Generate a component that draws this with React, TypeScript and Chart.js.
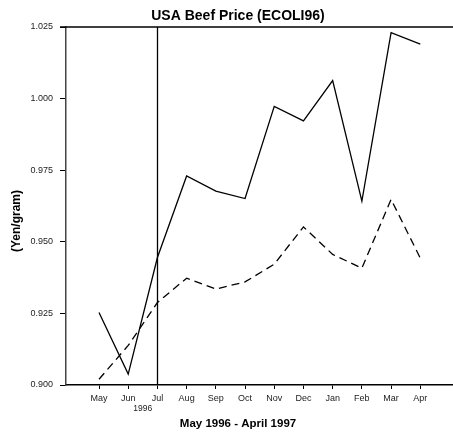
import React, { useEffect, useRef } from "react";
import { Chart, registerables } from "chart.js";

Chart.register(...registerables);

const months = ["May", "Jun", "Jul", "Aug", "Sep", "Oct", "Nov", "Dec", "Jan", "Feb", "Mar", "Apr"];
const usaPrice = [0.9253, 0.9038, 0.9445, 0.973, 0.9677, 0.9651, 0.9973, 0.9922, 1.0063, 0.9642, 1.023, 1.019];
const otherPrice = [0.902, 0.9138, 0.9288, 0.9373, 0.9335, 0.936, 0.9422, 0.9552, 0.9456, 0.9408, 0.9648, 0.9443];
const yTicks = [0.9, 0.925, 0.95, 0.975, 1.0, 1.025];
const eventIndex = 2; // July 1996 (ECOLI96)
const yearLabel = "1996";
const yearPos = 1.5;
const chartTitle = "USA Beef Price (ECOLI96)";
const xTitle = "May 1996 - April 1997";
const yTitle = "(Yen/gram)";

const FONT = "'Liberation Sans', Arial, sans-serif";

export default function App() {
  const ref = useRef<HTMLCanvasElement | null>(null);

  useEffect(() => {
    if (!ref.current) return;
    const decor = {
      id: "decor",
      afterDraw(chart: any) {
        const { ctx, chartArea, scales } = chart;
        const x = scales.x;
        ctx.save();
        // top border line
        ctx.strokeStyle = "#000";
        ctx.lineWidth = 1.5;
        ctx.beginPath();
        ctx.moveTo(chartArea.left - 6, chartArea.top);
        ctx.lineTo(chartArea.right, chartArea.top);
        ctx.stroke();
        // event line
        const ex = Math.round(x.getPixelForValue(eventIndex)) + 0.5;
        ctx.lineWidth = 1.3;
        ctx.beginPath();
        ctx.moveTo(ex, chartArea.top);
        ctx.lineTo(ex, chartArea.bottom);
        ctx.stroke();
        // texts
        ctx.fillStyle = "#000";
        ctx.textAlign = "center";
        ctx.textBaseline = "middle";
        ctx.font = `bold 14px ${FONT}`;
        ctx.fillText(chartTitle, 238, 16);
        ctx.font = `bold 11.5px ${FONT}`;
        ctx.fillText(xTitle, 238, 424);
        ctx.save();
        ctx.translate(16.5, 221);
        ctx.rotate(-Math.PI / 2);
        ctx.font = `bold 12px ${FONT}`;
        ctx.fillText(yTitle, 0, 0);
        ctx.restore();
        ctx.font = `8.5px ${FONT}`;
        ctx.fillStyle = "#222";
        ctx.fillText(yearLabel, x.getPixelForValue(yearPos), 409);
        ctx.restore();
      },
    };

    const chart = new Chart(ref.current, {
      type: "line",
      data: {
        datasets: [
          {
            label: "USA",
            data: usaPrice.map((v, i) => ({ x: i, y: v })),
            borderColor: "#000",
            borderWidth: 1.3,
            pointRadius: 0,
            fill: false,
            tension: 0,
          },
          {
            label: "Other",
            data: otherPrice.map((v, i) => ({ x: i, y: v })),
            borderColor: "#000",
            borderWidth: 1.3,
            borderDash: [8, 5],
            pointRadius: 0,
            fill: false,
            tension: 0,
          },
        ],
      },
      options: {
        animation: false,
        responsive: false,
        maintainAspectRatio: false,
        layout: { padding: { top: 27, right: 0, left: 0, bottom: 0 } },
        plugins: { legend: { display: false }, title: { display: false }, tooltip: { enabled: false } },
        scales: {
          x: {
            type: "linear",
            min: -1.13,
            max: 12.12,
            afterBuildTicks: (s: any) => {
              s.ticks = months.map((_, i) => ({ value: i }));
            },
            afterFit: (s: any) => {
              s.height = 51;
            },
            grid: { display: true, drawOnChartArea: false, drawTicks: true, tickLength: 4, color: "#000", lineWidth: 1 },
            border: { display: true, color: "#000", width: 1.5 },
            ticks: {
              autoSkip: false,
              maxRotation: 0,
              padding: 4,
              color: "#222",
              font: { family: FONT, size: 9 },
              callback: (v: any) => months[Math.round(Number(v))] ?? "",
            },
          },
          y: {
            type: "linear",
            min: 0.9,
            max: 1.025,
            afterBuildTicks: (s: any) => {
              s.ticks = yTicks.map((v) => ({ value: v }));
            },
            afterFit: (s: any) => {
              s.width = 66;
            },
            grid: { display: true, drawOnChartArea: false, drawTicks: true, tickLength: 6, color: "#000", lineWidth: 1 },
            border: { display: true, color: "#444", width: 1.5 },
            ticks: {
              padding: 7,
              color: "#222",
              font: { family: FONT, size: 9 },
              callback: (v: any) => Number(v).toFixed(3),
            },
          },
        },
      },
      plugins: [decor],
    });
    return () => chart.destroy();
  }, []);

  return (
    <div style={{ position: "fixed", left: 0, top: 0, width: 453, height: 436, background: "#fff" }}>
      <canvas ref={ref} width={453} height={436} style={{ width: 453, height: 436 }} />
    </div>
  );
}
